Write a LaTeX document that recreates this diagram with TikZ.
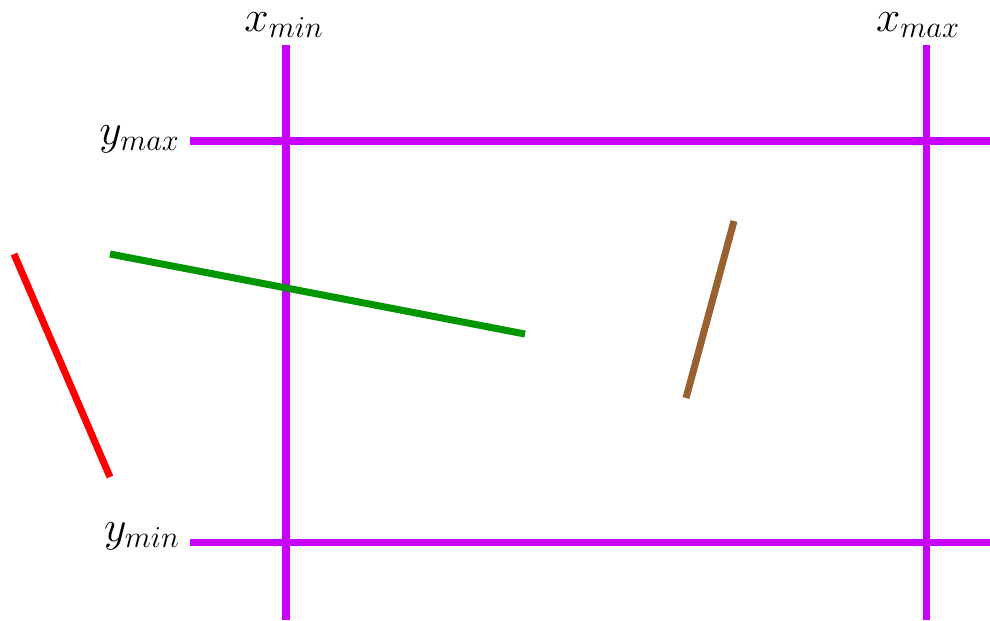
\documentclass[tikz,border=0pt]{standalone}
\definecolor{clipedge}{RGB}{200,0,255}
\definecolor{segred}{RGB}{255,0,0}
\definecolor{seggreen}{RGB}{0,150,0}
\definecolor{segbrown}{RGB}{153,97,48}
\tikzset{
    edge/.style={line width=4pt, clipedge},
    segment/.style={line width=4pt},
    lbl/.style={inner sep=0pt, font=\fontsize{23}{27}\selectfont}
}
\begin{document}
\begin{tikzpicture}[x=0.02cm, y=-0.02cm]
        \useasboundingbox (0,0) rectangle (990,620);
        % clipping window
        \draw[edge] (286,45) -- (286,620);
        \draw[edge] (926,45) -- (926,620);
        \draw[edge] (190,141) -- (990,141);
        \draw[edge] (190,542) -- (990,542);
        \node[lbl, anchor=base] (xmin) at (284,31) {$x_{min}$};
        \node[lbl, anchor=base] (xmax) at (918,31) {$x_{max}$};
        \node[lbl, anchor=base east] (ymax) at (180,144) {$y_{max}$};
        \node[lbl, anchor=base east] (ymin) at (180,541) {$y_{min}$};
        % segments
        \draw[segment, segred] (14,254) -- (110,477);
        \draw[segment, seggreen] (110,254) -- (525,334);
        \draw[segment, segbrown] (734,221) -- (686,398);
    \end{tikzpicture}
\end{document}
